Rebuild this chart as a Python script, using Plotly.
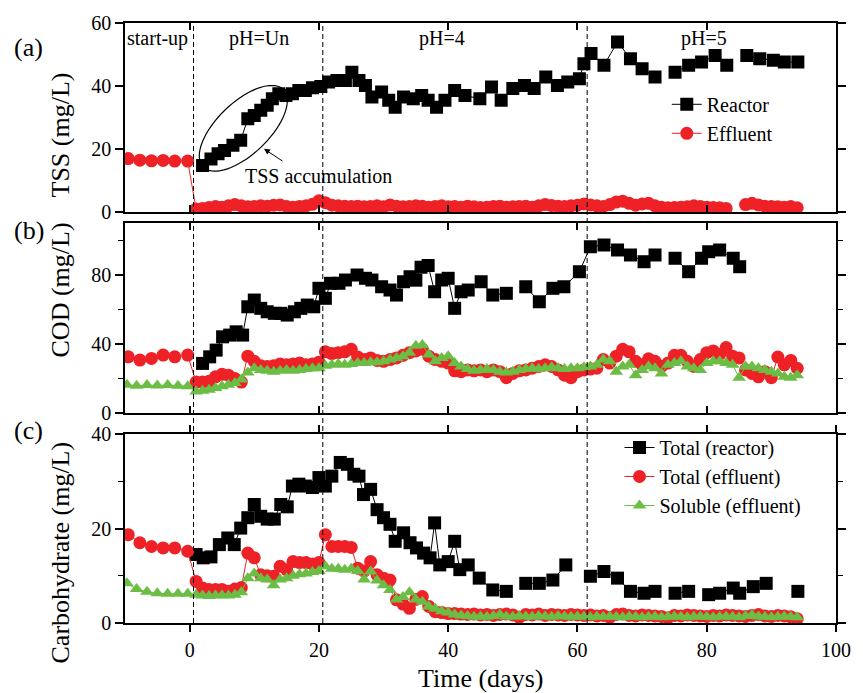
import numpy as np
import plotly.graph_objects as go

# ---------------- data ----------------
# (a) TSS
tss_reactor_day = [2.0,3.3,4.4,5.4,6.7,7.9,9.0,10.0,11.0,12.0,
                   12.8,13.8,14.9,15.9,16.9,17.9,19.0,20.3,21.5,22.8,
                   24.1,25.1,26.2,27.2,28.2,29.7,30.8,31.8,33.1,34.6,
                   35.9,36.9,38.2,39.5,41.0,42.6,44.9,46.7,48.2,50.0,
                   51.8,53.3,55.1,56.9,58.5,60.3,61.0,62.1,64.1,66.2,
                   68.2,70.0,72.0,75.1,77.2,79.2,81.3,83.1,86.2,88.2,
                   90.3,92.0,94.1]
tss_reactor = [14.8,16.9,18.5,19.6,21.2,22.8,29.6,30.7,32.3,33.9,
               36.0,37.6,37.0,37.6,38.6,38.6,39.5,39.9,41.3,41.8,
               41.8,44.4,41.8,40.2,36.5,38.1,35.5,33.3,36.5,36.0,
               37.0,35.5,33.3,35.5,38.6,37.0,36.0,39.7,35.5,39.2,
               40.2,39.2,42.9,40.2,41.3,42.3,47.1,50.3,46.6,54.0,
               48.7,45.5,42.9,44.4,46.6,47.6,49.7,46.6,49.7,48.7,
               48.2,47.6,47.6]

startup_day = [-9.5,-7.7,-5.9,-4.1,-2.3,-0.3]
startup_day_sol = [-9.7,-8.2,-6.6,-5.0,-3.4,-1.8,-0.3]
eff_day = [1,2,3,4,5,6,7,8,9,10,11,12,13,14,15,16,17,18,19,20,
           21,22,23,24,25,26,27,28,29,30,31,32,33,34,35,36,37,38,39,40,
           41,42,43,44,45,46,47,48,49,50,51,52,53,54,55,56,57,58,59,60,
           61,62,63,64,65,66,67,68,69,70,71,72,73,74,75,76,77,78,79,80,
           81,82,83,84,85,86,87,88,89,90,91,92,93,94]

tss_eff_startup = [17.0,16.5,16.3,16.4,16.2,16.2]
tss_eff = [1.0,1.2,1.5,1.8,1.6,2.0,2.4,2.0,1.7,1.8,
           2.0,1.9,2.2,2.3,1.8,1.6,1.8,2.0,2.5,3.6,
           3.0,2.2,2.0,1.9,1.8,1.9,1.7,1.8,2.0,1.7,
           2.3,1.9,1.7,1.8,2.0,1.9,1.6,1.8,2.0,1.7,
           1.8,1.6,1.9,1.7,1.5,1.6,1.8,1.9,1.6,1.7,
           1.8,1.9,1.6,2.0,2.4,2.1,1.9,1.8,2.0,2.2,
           2.6,2.3,2.0,1.8,2.4,3.2,3.5,2.8,2.2,2.6,
           2.8,2.0,1.6,1.4,1.5,1.6,1.7,2.0,1.8,1.6,
           1.5,1.4,1.2,None,None,2.4,2.8,2.3,1.9,1.8,
           1.7,1.6,1.8,1.4]

# (b) COD
cod_reactor_day = [2.0,3.1,4.1,5.1,6.2,7.2,8.2,9.0,10.0,11.0,
                   12.0,13.1,14.1,15.1,16.2,17.2,18.2,19.2,20.0,21.0,
                   21.8,23.1,24.1,25.9,27.2,28.2,29.7,31.0,32.0,33.1,
                   34.1,35.0,35.8,36.9,37.9,39.0,40.0,41.0,42.0,43.1,
                   45.1,46.9,49.0,52.0,54.1,56.2,57.9,60.3,62.0,64.1,
                   66.2,68.2,70.3,72.0,75.1,77.2,79.2,80.3,82.0,84.1,
                   85.1]
cod_reactor = [28.8,32.6,36.5,44.2,45.2,47.1,45.2,61.6,65.5,60.7,
               58.7,57.8,57.8,56.8,58.7,60.7,62.6,61.6,72.3,66.5,
               75.2,75.2,77.1,80.0,78.1,77.1,73.2,71.3,68.4,76.1,
               79.0,77.0,84.5,85.5,70.3,77.1,78.1,60.7,70.3,71.3,
               76.1,68.4,69.4,73.2,64.5,72.3,73.2,81.9,96.4,97.4,
               94.5,91.6,87.7,91.6,89.7,81.9,89.7,93.5,94.5,89.7,
               84.8]
cod_eff_startup = [32.6,30.7,31.7,33.6,32.6,33.6]
cod_eff = [18,18,18.5,21,22.5,22,20,18,33,30,
           27.5,27,27.5,28.5,28,28.5,29,28,28.5,29.5,
           35.5,34.5,35,35.5,37,32.5,31,32,30.5,30,
           31,32,33.5,35,36,37,33,31,30,29,
           24.5,24,25,24.5,25,24,25,24,20.5,23,
           24.5,25,26,27,28,27,25,22,20.5,24,
           25,25.5,26,31,29,33,37,35.5,30,28,
           31.5,30,27,29,33.5,33.5,30,27,31,35,
           36,34,38,33,32,25,23,21,24,20.5,
           32.5,28,30.5,26]
cod_sol_startup = [16.5,15.8,16.3,16.0,16.3,15.8,15.5]
cod_sol = [12.5,13,13.5,14.5,15.5,16.5,17.5,19.5,23.5,26,
           25,24.5,24,24.5,25,24.5,25,25.5,26,26,
           27.5,28,28.5,28,28.5,29,29,29.5,29.5,30,
           31,32,33,35,39,39.5,34,30,32,33,
           29,27,25.5,24.5,25,25.5,25,24,23.5,24,
           25,25.5,26,25.5,26,26.5,26,25.5,26,26,
           26.5,27,28,31,30,24,27,28,22,25,
           27,26,23,28,29,30,27,26,25,29,
           30,30,29,28,20.5,27,27,26,25,24,
           23,21,20.5,22]

# (c) Carbohydrate
carb_reactor_day = [1.0,2.1,3.3,4.6,5.9,6.9,7.9,9.0,10.0,11.0,
                    12.0,13.1,14.1,15.1,15.9,16.9,17.9,19.0,20.0,21.0,
                    22.0,23.3,24.4,25.4,26.2,26.9,28.0,29.0,30.0,31.0,
                    31.8,33.1,34.1,35.1,36.2,37.2,37.9,38.7,40.0,41.0,
                    41.8,43.1,44.8,46.9,49.0,52.0,54.1,56.2,58.2,62.0,
                    64.1,66.2,68.2,70.3,72.0,75.1,77.2,80.3,82.0,84.1,
                    85.1,87.2,89.2,94.1]
carb_reactor = [14.5,13.8,14.0,16.6,18.0,16.6,20.1,22.3,25.1,22.6,
                22.0,22.0,25.1,24.6,29.0,29.4,29.0,28.7,30.8,29.0,
                31.1,34.0,33.6,31.5,31.1,27.2,28.3,24.0,22.3,20.9,
                17.3,19.1,17.0,15.9,14.8,13.8,21.2,12.3,13.0,17.3,
                11.3,12.3,9.5,7.0,6.7,8.4,8.4,9.1,12.3,9.9,
                10.9,9.5,6.7,6.3,6.7,6.3,6.7,6.0,6.3,7.4,
                6.3,7.7,8.4,6.7]
carb_eff_startup = [18.7,17.0,16.2,15.9,15.9,15.2]
carb_eff = [8.8,7.4,7.1,7.1,7.1,6.7,7.2,7.5,14.8,13.8,
            10.2,10.0,9.9,12.0,11.3,13.0,12.8,12.8,12.5,12.8,
            18.7,16.2,16.2,16.2,16.0,11.6,11.0,13.0,10.2,9.5,
            9.1,4.9,4.0,3.1,5.0,5.6,3.5,2.4,2.2,2.0,
            2.0,1.9,1.8,1.9,1.7,1.8,1.6,1.8,1.9,1.7,
            1.2,1.8,1.7,1.9,1.6,1.8,1.7,1.6,1.8,1.7,
            1.6,1.7,1.5,1.6,1.2,1.8,1.9,1.6,1.5,1.7,
            1.6,1.5,1.4,1.1,1.6,1.5,1.7,1.6,1.5,1.4,
            1.6,1.5,1.7,1.6,1.5,1.4,1.6,1.8,1.5,1.4,
            1.6,1.5,1.3,0.9]
carb_sol_startup = [8.4,7.2,6.6,6.3,6.2,6.2,6.2]
carb_sol = [6.0,5.8,5.7,5.8,5.9,5.8,6.0,6.5,9.5,10.5,
            9.5,9.2,8.0,9.2,9.5,10.0,10.3,10.5,10.8,11.0,
            12.0,11.5,11.5,11.3,11.5,11.0,9.2,10.9,9.0,8.0,
            7.0,5.0,5.5,6.5,5.0,4.5,3.5,3.0,2.5,2.2,
            1.8,1.6,1.5,1.3,1.4,1.3,1.5,1.8,1.4,1.3,
            1.5,1.4,1.3,1.5,1.4,1.3,1.5,1.4,1.3,1.4,
            1.3,1.2,1.4,1.3,1.4,1.3,1.2,1.4,1.3,1.2,
            1.3,1.4,1.2,1.3,1.4,1.3,1.2,1.3,1.4,1.3,
            1.2,1.3,1.4,1.3,1.2,1.5,1.7,1.4,1.3,1.2,
            1.3,1.4,1.3,1.2]

phase_bounds = [0.6, 20.6, 61.5]
phase_labels = ["start-up", "pH=Un", "pH=4", "pH=5"]
phase_label_x = [-4.9, 10.8, 39.0, 79.5]

# ---------------- helpers ----------------
def with_gaps(days, vals, maxgap=2.5):
    xs, ys = [], []
    for i, (d, v) in enumerate(zip(days, vals)):
        if i > 0 and d - days[i - 1] > maxgap:
            xs.append(None)
            ys.append(None)
        xs.append(d)
        ys.append(v)
    return xs, ys

BLACK = "#000000"
RED = "#EE2226"
GREEN = "#6CBD45"
FONT = "Liberation Serif, Times New Roman, DejaVu Serif, serif"

fig = go.Figure()

def add(days, vals, color, symbol, size, xa, ya, name, legend=None, lw=1):
    xs, ys = with_gaps(days, vals)
    fig.add_trace(go.Scatter(
        x=xs, y=ys, mode="lines+markers", name=name,
        line=dict(color=color, width=lw),
        marker=dict(symbol=symbol, size=size, color=color, line=dict(width=0)),
        xaxis=xa, yaxis=ya, connectgaps=False,
        showlegend=legend is not None, legend=legend if legend else "legend",
    ))

# (a)
add(tss_reactor_day, tss_reactor, BLACK, "square", 13, "x", "y", "Reactor", "legend")
add(startup_day + eff_day, tss_eff_startup + tss_eff, RED, "circle", 13, "x", "y", "Effluent", "legend")
# (b)
add(cod_reactor_day, cod_reactor, BLACK, "square", 13, "x2", "y2", "Reactor")
add(startup_day + eff_day, cod_eff_startup + cod_eff, RED, "circle", 13, "x2", "y2", "Effluent")
add(startup_day_sol + eff_day, cod_sol_startup + cod_sol, GREEN, "triangle-up", 12, "x2", "y2", "Soluble")
# (c)
add(carb_reactor_day, carb_reactor, BLACK, "square", 13, "x3", "y3", "Total (reactor)", "legend2")
add(startup_day + eff_day, carb_eff_startup + carb_eff, RED, "circle", 13, "x3", "y3", "Total (effluent)", "legend2")
add(startup_day_sol + eff_day, carb_sol_startup + carb_sol, GREEN, "triangle-up", 12, "x3", "y3", "Soluble (effluent)", "legend2")

# ---------------- axes ----------------
dom_a = [0.6847, 1.0]
dom_b = [0.3498, 0.6663]
dom_c = [0.0, 0.3148]
tickfont = dict(family=FONT, size=20, color="black")

def xax(anchor, show_labels, ticks):
    return dict(range=[-10, 100], dtick=20, tick0=0, anchor=anchor, showline=True,
                linecolor="black", linewidth=1.5, mirror="ticks", ticks=ticks,
                ticklen=7, tickwidth=1.5, tickcolor="black", showgrid=False,
                zeroline=False, showticklabels=show_labels, tickfont=tickfont,
                ticklabelstandoff=1)

def yax(anchor, dom, rng, dtick, minor):
    d = dict(domain=dom, range=rng, dtick=dtick, tick0=0, anchor=anchor, showline=True,
             linecolor="black", linewidth=1.5, mirror="ticks", ticks="outside",
             ticklen=8, tickwidth=1.5, tickcolor="black", showgrid=False,
             zeroline=False, tickfont=tickfont)
    if minor:
        d["minor"] = dict(dtick=minor, tick0=0, ticks="outside", ticklen=5,
                          tickwidth=1.2, tickcolor="black", showgrid=False)
    return d

fig.update_layout(
    width=863, height=693,
    margin=dict(l=125, r=22, t=22, b=70),
    plot_bgcolor="white", paper_bgcolor="white",
    font=dict(family=FONT, color="black"),
    xaxis=xax("y", False, "inside"),
    xaxis2=xax("y2", False, "inside"),
    xaxis3=xax("y3", True, "outside"),
    yaxis=yax("x", dom_a, [0, 60], 20, None),
    yaxis2=yax("x2", dom_b, [0, 110], 40, 20),
    yaxis3=yax("x3", dom_c, [0, 40], 20, 10),
    legend=dict(x=0.762, y=0.897, xanchor="left", yanchor="top",
                bgcolor="rgba(0,0,0,0)", font=dict(family=FONT, size=20, color="black"),
                tracegroupgap=0, itemwidth=30),
    legend2=dict(x=0.6955, y=0.325, xanchor="left", yanchor="top",
                 bgcolor="rgba(0,0,0,0)", font=dict(family=FONT, size=20, color="black"),
                 tracegroupgap=0, itemwidth=30),
)

fig.add_annotation(text="Time (days)", xref="paper", yref="paper", x=0.5, y=-0.092,
                   xanchor="center", yanchor="middle", showarrow=False,
                   font=dict(family=FONT, size=26, color="black"))

# y titles
for txt, yy in [("TSS (mg/L)", 0.813), ("COD (mg/L)", 0.5547), ("Carbohydrate (mg/L)", 0.118)]:
    fig.add_annotation(text=txt, xref="paper", yref="paper", x=-0.091, y=yy,
                       textangle=-90, showarrow=False, xanchor="center", yanchor="middle",
                       font=dict(family=FONT, size=26, color="black"))
# panel labels
for txt, yy in [("(a)", 0.9595), ("(b)", 0.6547), ("(c)", 0.3215)]:
    fig.add_annotation(text=txt, xref="paper", yref="paper", x=-0.1355, y=yy,
                       showarrow=False, xanchor="center", yanchor="middle",
                       font=dict(family=FONT, size=26, color="black"))

# phase dividers
for xb in phase_bounds:
    fig.add_shape(type="line", xref="x", yref="paper", x0=xb, x1=xb, y0=0, y1=1,
                  line=dict(color="black", width=1, dash="5px,3px"))
for txt, xx in zip(phase_labels, phase_label_x):
    fig.add_annotation(text=txt, xref="x", yref="y", x=xx, y=55, showarrow=False,
                       xanchor="center", yanchor="middle",
                       font=dict(family=FONT, size=20, color="black"))

# ellipse around TSS accumulation (pixel-scale geometry converted to data units)
px_x = 716 / 110.0
px_y = 189.6 / 60.0
cx, cy = 8.3, 26.6
a_len, b_len = 56.0, 26.0
ux, uy = 0.724, 0.689
vx, vy = 0.689, -0.724
t = np.linspace(0, 2 * np.pi, 73)
ex = cx + (a_len * np.cos(t) * ux + b_len * np.sin(t) * vx) / px_x
ey = cy + (a_len * np.cos(t) * uy + b_len * np.sin(t) * vy) / px_y
path = "M " + " L ".join(f"{x:.3f},{y:.3f}" for x, y in zip(ex, ey)) + " Z"
fig.add_shape(type="path", xref="x", yref="y", path=path,
              line=dict(color="black", width=1.2))
fig.add_annotation(x=11.5, y=20.1, ax=14.6, ay=15.9, xref="x", yref="y",
                   axref="x", ayref="y", text="", showarrow=True,
                   arrowhead=2, arrowsize=1.2, arrowwidth=1, arrowcolor="black")
fig.add_annotation(text="TSS accumulation", xref="x", yref="y", x=20, y=11.6,
                   showarrow=False, xanchor="center", yanchor="middle",
                   font=dict(family=FONT, size=20, color="black"))

fig.write_html("out.html", config={"displayModeBar": False},
               post_script="document.body.style.margin='0px';document.body.style.overflow='hidden';")
